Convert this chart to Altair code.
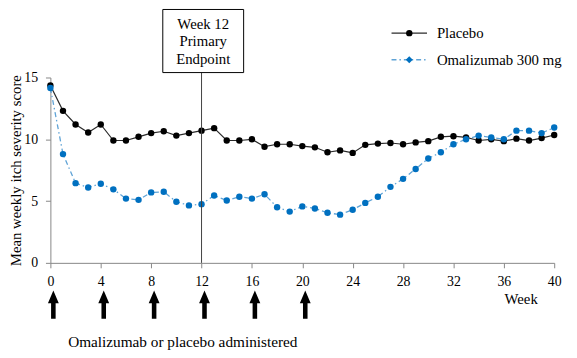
import altair as alt
import pandas as pd

weeks = list(range(0, 41))
placebo = [14.35, 12.3, 11.2, 10.55, 11.2, 9.9, 9.9, 10.2, 10.5, 10.65, 10.3, 10.5, 10.7, 10.9,
           9.9, 9.9, 10.0, 9.4, 9.6, 9.6, 9.45,
           9.35, 8.95, 9.1, 8.9, 9.55, 9.65, 9.7, 9.6, 9.75, 9.85, 10.2, 10.25, 10.15, 9.9, 10.0,
           9.85, 10.05, 9.9, 10.1, 10.35]
omalizumab = [14.15, 8.8, 6.45, 6.1, 6.4, 5.95, 5.2, 5.1, 5.7, 5.75, 4.95, 4.65, 4.75, 5.45,
              5.05, 5.35, 5.2, 5.55, 4.5, 4.15, 4.57,
              4.4, 4.05, 3.9, 4.3, 4.85, 5.35, 6.15, 6.8, 7.6, 8.45, 8.95, 9.6, 10.0, 10.3, 10.15,
              10.0, 10.7, 10.7, 10.5, 10.95]
dose_weeks = [0, 4, 8, 12, 16, 20]
endpoint_week = [12]
x_ticks = list(range(0, 41, 4))
y_ticks = [0, 5, 10, 15]
series_names = ["Placebo", "Omalizumab 300 mg"]

FONT = "Liberation Serif"
BLUE = "#0070C0"
BLUE_LINE = "#5fa3d6"
DASH = [5, 3, 1.5, 3]

df_p = pd.DataFrame({"week": weeks, "score": placebo})
df_o = pd.DataFrame({"week": weeks, "score": omalizumab})
df_dose = pd.DataFrame({"week": dose_weeks})
df_end = pd.DataFrame({"week": endpoint_week})
one = pd.DataFrame({"a": [0]})

xenc = alt.X("week:Q", scale=alt.Scale(domain=[0, 40], nice=False),
             axis=alt.Axis(values=x_ticks, title="Week", titleX=477, titleY=36,
                           titleAlign="center", titleBaseline="middle", titleFontSize=15,
                           labelPadding=7, tickSize=5, labelFlush=False))
yenc = alt.Y("score:Q", scale=alt.Scale(domain=[0, 15], nice=False),
             axis=alt.Axis(values=y_ticks, title="Mean weekly itch severity score",
                           titleX=-35, titleY=94, titleAngle=-90, titleAlign="center",
                           titleBaseline="middle", titleFontSize=15, labelPadding=8, tickSize=5))

p_line = alt.Chart(df_p).mark_line(color="#2b2b2b", strokeWidth=1.2).encode(x=xenc, y=yenc)
p_pts = alt.Chart(df_p).mark_circle(color="black", size=42, opacity=1).encode(x="week:Q", y="score:Q")
o_line = alt.Chart(df_o).mark_line(color=BLUE_LINE, strokeWidth=1.3, strokeDash=DASH).encode(x="week:Q", y="score:Q")
o_pts = alt.Chart(df_o).mark_circle(color=BLUE, size=42, opacity=1).encode(x="week:Q", y="score:Q")

end_rule = alt.Chart(df_end).mark_rule(color="#404040", strokeWidth=1).encode(
    x="week:Q", y=alt.value(-5), y2=alt.value(188))
box = alt.Chart(one).mark_rect(fill="white", stroke="black", strokeWidth=1).encode(
    x=alt.value(114), x2=alt.value(196), y=alt.value(-69), y2=alt.value(-5))
box_text = alt.Chart(one).mark_text(text=["Week 12", "Primary", "Endpoint"], font=FONT, fontSize=15,
                                    lineHeight=17.5, baseline="middle", align="center", color="black").encode(
    x=alt.value(155), y=alt.value(-54))

ARROW = "M0,-2.64 L1,-0.27 L0.42,-0.27 L0.42,2.6 L-0.42,2.6 L-0.42,-0.27 L-1,-0.27 Z"
arrows = alt.Chart(df_dose).mark_point(shape=ARROW, size=121, filled=True, color="black",
                                       opacity=1, strokeWidth=0, xOffset=3).encode(
    x="week:Q", y=alt.value(230.5))
admin_text = alt.Chart(one).mark_text(text="Omalizumab or placebo administered", font=FONT, fontSize=15.5,
                                      align="left", baseline="middle", color="black").encode(
    x=alt.value(18), y=alt.value(268))

leg1_line = alt.Chart(one).mark_rule(color="#2b2b2b", strokeWidth=1.2).encode(
    x=alt.value(346), x2=alt.value(382), y=alt.value(-45))
leg1_pt = alt.Chart(one).mark_circle(color="black", size=42, opacity=1).encode(
    x=alt.value(364), y=alt.value(-45))
leg1_txt = alt.Chart(one).mark_text(text=series_names[0], font=FONT, fontSize=15, align="left",
                                    baseline="middle", color="black").encode(x=alt.value(392), y=alt.value(-45))
leg2_line = alt.Chart(one).mark_rule(color=BLUE_LINE, strokeWidth=1.3, strokeDash=DASH).encode(
    x=alt.value(346), x2=alt.value(382), y=alt.value(-18))
leg2_pt = alt.Chart(one).mark_point(shape="diamond", color=BLUE, size=50, filled=True, opacity=1).encode(
    x=alt.value(364), y=alt.value(-18))
leg2_txt = alt.Chart(one).mark_text(text=series_names[1], font=FONT, fontSize=15, align="left",
                                    baseline="middle", color="black").encode(x=alt.value(392), y=alt.value(-18))

chart = alt.layer(
    p_line, p_pts, o_line, o_pts, end_rule, box, box_text, arrows, admin_text,
    leg1_line, leg1_pt, leg1_txt, leg2_line, leg2_pt, leg2_txt
).properties(
    width=511, height=188,
    autosize=alt.AutoSizeParams(type="none"),
    padding={"left": 43, "top": 68, "right": 15, "bottom": 94},
).configure_view(stroke=None).configure_axis(
    grid=False, domainColor="#868686", tickColor="#868686", labelFont=FONT, labelFontSize=14,
    labelColor="black", titleFont=FONT, titleFontWeight="normal", titleColor="black"
)

chart.save("out.html", embed_options={"renderer": "svg", "actions": False})
